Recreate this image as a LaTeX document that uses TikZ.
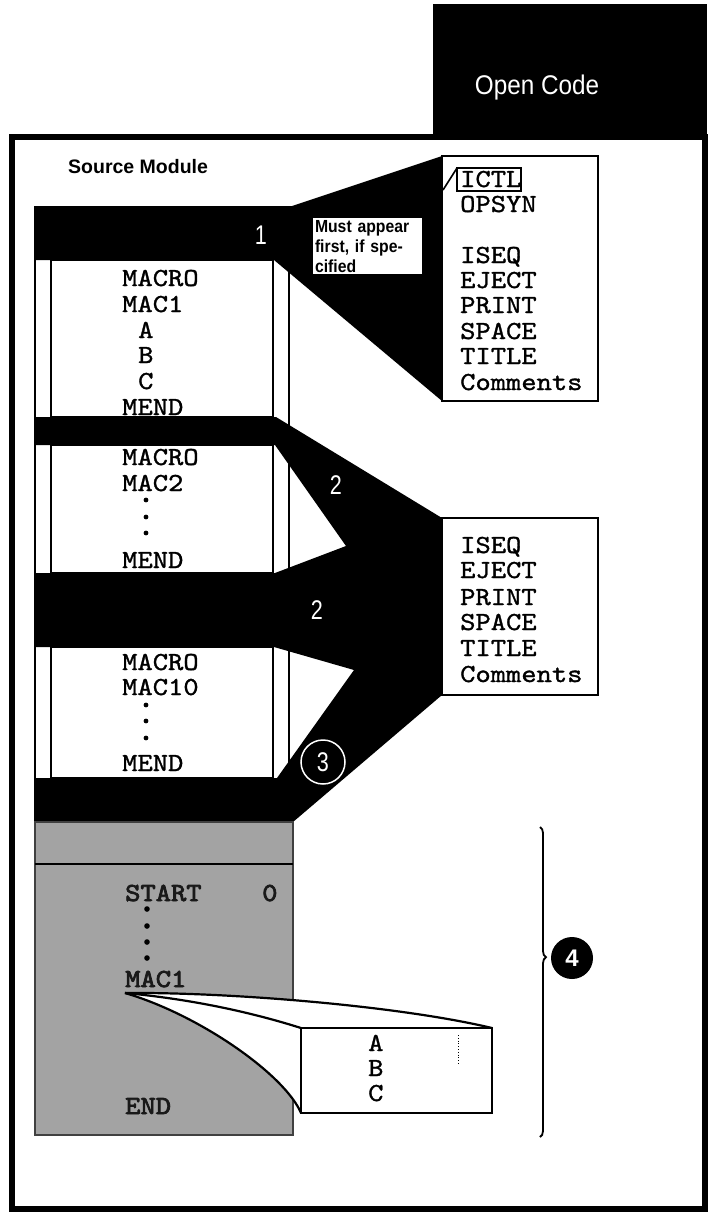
\documentclass[tikz,border=0pt]{standalone}
\usepackage{fontspec}
\setmainfont{Liberation Sans}
\setsansfont{Liberation Sans}
\setmonofont{lmmono10-regular.otf}[FakeStretch=1.12, FakeBold=1.2]
\newfontfamily\graymono{lmmono10-regular.otf}[FakeStretch=1.12, FakeBold=3]
\newfontfamily\narrowsans{Liberation Sans}[FakeStretch=0.9]
\usetikzlibrary{decorations.pathreplacing}
\begin{document}
\begin{tikzpicture}[x=1pt,y=-1pt,
  mt/.style={font=\fontsize{26}{26}\selectfont\ttfamily, anchor=base west, inner sep=0pt},
  gt/.style={font=\fontsize{26}{26}\selectfont\graymono, anchor=base west, inner sep=0pt, text=black!90},
  lab/.style={font=\fontsize{27}{27}\selectfont\sffamily, text=white, inner sep=0pt},
  blk/.style={fill=black, draw=none},
  colline/.style={line width=2.6pt},
  boxline/.style={line width=2.2pt},
  dotm/.style={fill=black, draw=none},
  listbox/.style={fill=white, draw=black, line width=2.2pt},
]
\useasboundingbox (0,0) rectangle (710,1213);
\fill[white] (0,0) rectangle (710,1213);

% header and frame
\fill[black] (433,4) rectangle (707,137);
\node[font=\fontsize{27}{27}\selectfont\narrowsans, text=white, inner sep=0pt] (hdr) at (537,88) {Open Code};
\draw[line width=6pt] (12,137) rectangle (705,1209);

\node[font=\fontsize{19.5}{19.5}\selectfont\sffamily\bfseries, anchor=west, inner sep=0pt] (srcmod) at (68,167) {Source Module};

% column lines
\draw[colline] (35,206) -- (35,822);
\draw[colline] (289,206) -- (289,822);
\draw[boxline] (51,260) rectangle (273,417);
\draw[boxline] (51,445) rectangle (273,573);
\draw[boxline] (51,647) rectangle (273,778);

% black shapes
\fill[blk] (34,206) -- (292,206) -- (442,156) -- (442,401) -- (274,260) -- (34,260) -- cycle;
\fill[blk] (34,417) -- (276,417) -- (442,518) -- (442,695) -- (293,822) -- (34,822)
  -- (34,778) -- (277,778) -- (354,670) -- (274,647) -- (34,647) -- (34,573)
  -- (275,573) -- (346,546) -- (275,445) -- (34,445) -- cycle;

% list boxes
\draw[listbox] (442,156) rectangle (598,401);
\draw[listbox] (442,518) rectangle (598,695);

% list 1 text
\node[mt] (ictl) at (460,187) {ICTL};
\draw[line width=1.6pt] (457,168) rectangle (521,191);
\draw[line width=1.6pt] (443,190) -- (457,168);
\node[mt] (opsyn) at (460,212) {OPSYN};
\node[mt] (l1a) at (460,263) {ISEQ};
\node[mt] (l1b) at (460,288) {EJECT};
\node[mt] (l1c) at (460,313) {PRINT};
\node[mt] (l1d) at (460,339) {SPACE};
\node[mt] (l1e) at (460,364) {TITLE};
\node[mt] (l1f) at (460,390) {Comments};

% list 2 text
\node[mt] (l2a) at (460,553) {ISEQ};
\node[mt] (l2b) at (460,578) {EJECT};
\node[mt] (l2c) at (460,605) {PRINT};
\node[mt] (l2d) at (460,630) {SPACE};
\node[mt] (l2e) at (460,656) {TITLE};
\node[mt] (l2f) at (460,682) {Comments};

% must appear box
\node[draw=black, fill=white, line width=1pt, align=left, anchor=north west, inner sep=2.5pt,
  text width=105pt, font=\fontsize{17.5}{20}\selectfont\narrowsans\bfseries] (must) at (312,217)
  {Must appear\\first, if spe-\\cified};

% white labels
\node[lab] (one) at (261,235) {\scalebox{0.8}[1]{1}};
\node[lab] (twoa) at (336,485) {\scalebox{0.8}[1]{2}};
\node[lab] (twob) at (317,610) {\scalebox{0.8}[1]{2}};

% box 1 text
\node[mt] (b1a) at (122,286) {MACRO};
\node[mt] (b1b) at (122,312) {MAC1};
\node[mt] (b1c) at (138,338) {A};
\node[mt] (b1d) at (138,363) {B};
\node[mt] (b1e) at (138,389) {C};
\node[mt] (b1f) at (122,415) {MEND};

% box 2 text
\node[mt] (b2a) at (122,465) {MACRO};
\node[mt] (b2b) at (122,491) {MAC2};
\fill[dotm] (146,500) circle (2.4) (146,517) circle (2.4) (146,533) circle (2.4);
\node[mt] (b2c) at (122,568) {MEND};

% box 3 text
\node[mt] (b3a) at (122,670) {MACRO};
\node[mt] (b3b) at (122,695) {MAC10};
\fill[dotm] (146,705) circle (2.4) (146,721) circle (2.4) (146,738) circle (2.4);
\node[mt] (b3c) at (122,771) {MEND};

% circle 3
\node[circle, fill=black, draw=white, line width=1.5pt, minimum size=44pt, inner sep=0pt,
  font=\fontsize{27}{27}\selectfont\sffamily, text=white] (three) at (323,762) {\scalebox{0.8}[1]{3}};

% gray region
\filldraw[fill=black!36, draw=black!75, line width=1.5pt] (35,822) rectangle (293,1135);
\draw[line width=2.2pt] (35,864) -- (293,864);
\node[gt] (start) at (125,901) {START};
\node[gt] (zero) at (262,901) {0};
\fill[dotm] (147,909) circle (2.8) (147,926) circle (2.8) (147,942) circle (2.8) (147,958) circle (2.8);
\node[gt] (mac1) at (125,987) {MAC1};
\node[gt] (endg) at (125,1114) {END};

% expansion
\coordinate (P) at (125,993);
\coordinate (TL) at (301,1028);
\coordinate (TR) at (492,1028);
\coordinate (BL) at (301,1113);
\coordinate (BR) at (492,1113);
\fill[white] (P) .. controls (230,992) and (400,1006) .. (TR) -- (BR) -- (BL)
  .. controls (285,1075) and (200,1015) .. (P) -- cycle;
\draw[line width=2.2pt] (P) .. controls (230,992) and (400,1006) .. (TR);
\draw[line width=2.2pt] (P) .. controls (200,1000) and (260,1015) .. (TL);
\draw[line width=2.2pt] (P) .. controls (200,1015) and (285,1075) .. (BL);
\draw[line width=2.2pt] (TL) rectangle (BR);
\node[mt] (ea) at (368,1051) {A};
\node[mt] (eb) at (368,1076) {B};
\node[mt] (ec) at (368,1101) {C};
\draw[line width=0.8pt, dotted] (458,1035) -- (458,1065);

% brace and 4
\draw[line width=1.8pt, decorate, decoration={brace, amplitude=6pt, aspect=0.42}] (540,827) -- (540,1137);
\node[circle, fill=black, minimum size=42pt, inner sep=0pt,
  font=\fontsize{24}{24}\selectfont\sffamily\bfseries, text=white] (four) at (572,958) {4};
\end{tikzpicture}
\end{document}
